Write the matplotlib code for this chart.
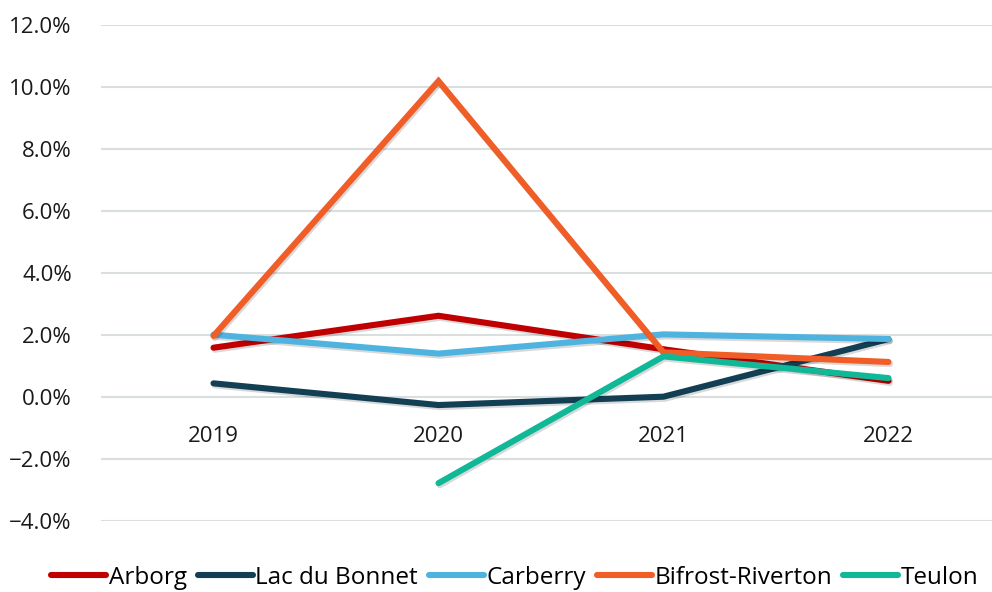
import matplotlib
matplotlib.use("Agg")
import matplotlib.pyplot as plt
import matplotlib.patheffects as pe
from matplotlib.ticker import PercentFormatter
import numpy as np

years = ["2019", "2020", "2021", "2022"]
arborg = [1.60, 2.63, 1.55, 0.53]
lac_du_bonnet = [0.45, -0.25, 0.02, 1.88]
carberry = [2.02, 1.41, 2.03, 1.88]
bifrost = [1.98, 10.2, 1.45, 1.14]
teulon = [np.nan, -2.77, 1.32, 0.62]

series = [
    ("Arborg", arborg, "#C00000"),
    ("Lac du Bonnet", lac_du_bonnet, "#133F54"),
    ("Carberry", carberry, "#4FB3E0"),
    ("Bifrost-Riverton", bifrost, "#F15D27"),
    ("Teulon", teulon, "#10B898"),
]

plt.rcParams["font.family"] = ["Open Sans", "DejaVu Sans"]

fig = plt.figure(figsize=(9.92, 5.92), dpi=100)
ax = fig.add_axes([101 / 992, 1 - 521.3 / 592, 891 / 992, (521.3 - 25.3) / 592])

x = np.arange(len(years))
shadow = [pe.SimpleLineShadow(offset=(1.0, -1.5), shadow_color="black", alpha=0.15),
          pe.Normal()]
for name, vals, color in series:
    ax.plot(x, vals, color=color, lw=4.4, label=name, solid_capstyle="round",
            solid_joinstyle="miter", path_effects=shadow)

ax.set_ylim(-4, 12)
ax.set_xlim(-0.5, 3.46)
ax.set_yticks(np.arange(-4, 13, 2))
ax.yaxis.set_major_formatter(PercentFormatter(decimals=1))
ax.set_xticks(x)
ax.set_xticklabels(years)
ax.grid(axis="y", color="#D9DEDF", lw=1.5)
ax.set_axisbelow(True)
for s in ax.spines.values():
    s.set_visible(False)
ax.spines["bottom"].set_position(("data", 0))
ax.tick_params(axis="both", length=0, labelsize=16, colors="#1a1a1a")
ax.tick_params(axis="y", pad=21)
ax.tick_params(axis="x", pad=21)

leg = fig.legend(loc="center", bbox_to_anchor=(515 / 992, 1 - 578 / 592), ncol=5,
                 frameon=False, fontsize=17.5, handlelength=2.25, handletextpad=0.12,
                 columnspacing=0.45, borderaxespad=0)
for line in leg.get_lines():
    line.set_linewidth(4.4)
    line.set_solid_capstyle("round")
    line.set_path_effects([])

fig.savefig("out.png", dpi=100)
plt.close(fig)
